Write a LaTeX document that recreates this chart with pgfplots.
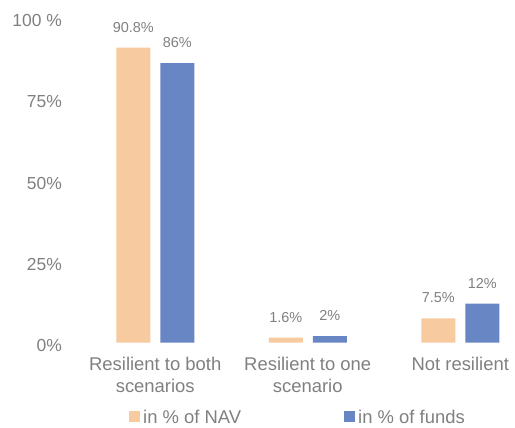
\documentclass[border=0pt]{standalone}
\usepackage{pgfplots}
\pgfplotsset{compat=1.18}
\usepackage{fontspec}
\setmainfont{Liberation Sans}
\definecolor{peach}{HTML}{F8CAA0}
\definecolor{bblue}{HTML}{6885C4}
\definecolor{tgray}{HTML}{808080}
\begin{document}
\begin{tikzpicture}
\useasboundingbox (-79bp,-85.3bp) rectangle (436bp,342.7bp);
\begin{axis}[
  scale only axis,
  width=436bp, height=325bp,
  xmin=-0.5, xmax=2.359,
  ymin=0, ymax=100,
  clip=false,
  axis line style={draw=none},
  tick style={draw=none},
  ytick={0,25,50,75,100},
  yticklabels={0\%,25\%,50\%,75\%,100 \%},
  xtick={0,1,2},
  xticklabels={Resilient to both\\scenarios, Resilient to one\\scenario, Not resilient},
  yticklabel style={font=\fontsize{17.5}{20}\selectfont, text=tgray, anchor=east, inner sep=0pt, xshift=-17bp, yshift=-3bp},
  xticklabel style={font=\fontsize{18.5}{22}\selectfont, text=tgray, align=center, anchor=north, inner sep=0pt, yshift=-10bp},
  ybar,
  bar width=34bp,
  point meta=explicit symbolic,
  nodes near coords,
  nodes near coords style={font=\fontsize{14.5}{17}\selectfont, text=tgray, anchor=south, inner sep=0pt, yshift=15bp},
  legend columns=2,
  legend style={at={(0.5,-0.2317)}, anchor=center, draw=none, fill=none, inner sep=0pt,
    nodes={inner sep=0pt, font=\fontsize{18.5}{22}\selectfont, text=tgray},
    /tikz/every odd column/.append style={column sep=3bp},
    /tikz/every even column/.append style={column sep=103bp}},
  legend image code/.code={\fill[#1] (0bp,-3.5bp) rectangle (11bp,7.5bp);},
]
\addplot[fill=peach, draw=none, bar shift=-22bp] coordinates {(0,90.8) [90.8\%] (1,1.6) [1.6\%] (2,7.5) [7.5\%]};
\addlegendentry{in \% of NAV}
\addplot[fill=bblue, draw=none, bar shift=22bp] coordinates {(0,86) [86\%] (1,2) [2\%] (2,12) [12\%]};
\addlegendentry{in \% of funds}
\end{axis}
\end{tikzpicture}
\end{document}
